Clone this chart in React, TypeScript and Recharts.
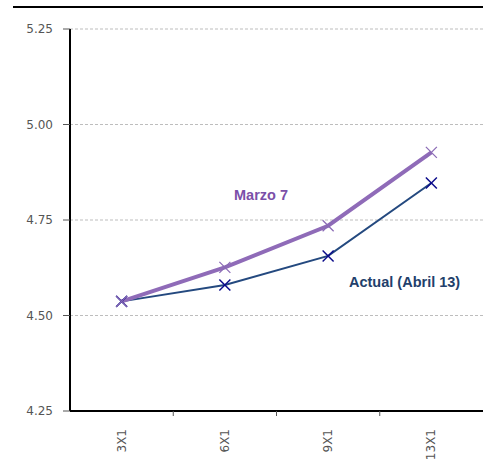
import { LineChart, Line, XAxis, YAxis, CartesianGrid, Customized } from "recharts";

const plazos = ["3X1", "6X1", "9X1", "13X1"];
const marzo7 = [4.537, 4.626, 4.735, 4.927];
const actual = [4.537, 4.58, 4.656, 4.847];
const yTicks = [4.25, 4.5, 4.75, 5.0, 5.25];

const data = plazos.map((p, i) => ({ plazo: p, marzo: marzo7[i], actual: actual[i] }));

const BAND = 103.25;
const tickFont = "DejaVu Sans, sans-serif";
const labelFont = "Liberation Sans, Arial, sans-serif";

const XTick = (props: any) => {
  const { x, y, payload, index } = props;
  return (
    <g>
      {index > 0 && (
        <line x1={x - BAND / 2} x2={x - BAND / 2} y1={y - 8} y2={y - 3} stroke="#555" strokeWidth={1} />
      )}
      <text
        x={x}
        y={y + 10}
        transform={`rotate(-90, ${x}, ${y + 10})`}
        textAnchor="end"
        dominantBaseline="central"
        fill="#555"
        fontSize={12}
        fontFamily={tickFont}
      >
        {payload.value}
      </text>
    </g>
  );
};

const cross = (color: string, w: number) => (props: any) => {
  const { cx, cy, index } = props;
  if (cx == null || cy == null) return <g key={index} />;
  const s = 5.5;
  return (
    <g key={index}>
      <line x1={cx - s} y1={cy - s} x2={cx + s} y2={cy + s} stroke={color} strokeWidth={w} />
      <line x1={cx - s} y1={cy + s} x2={cx + s} y2={cy - s} stroke={color} strokeWidth={w} />
    </g>
  );
};

const Labels = () => (
  <g fontFamily={labelFont} fontWeight="bold" fontSize={14.5}>
    <text x={234} y={200} fill="#7b4fa8">Marzo 7</text>
    <text x={349} y={287} fill="#233f6b">Actual (Abril 13)</text>
  </g>
);

export default function App() {
  return (
    <div style={{ position: "absolute", left: 0, top: 0, width: 483, height: 460, background: "#fff" }}>
      <div style={{ position: "absolute", left: 13, top: 6, width: 470, height: 2, background: "#000" }} />
      <LineChart width={483} height={460} data={data} margin={{ top: 29, right: 0, bottom: 0, left: 8 }}>
        <CartesianGrid horizontal vertical={false} stroke="#bdbdbd" strokeDasharray="3 2" />
        <XAxis
          dataKey="plazo"
          scale="band"
          height={49}
          tickLine={false}
          axisLine={{ stroke: "#000", strokeWidth: 2 }}
          tick={<XTick />}
          interval={0}
        />
        <YAxis
          width={62}
          domain={[4.25, 5.25]}
          ticks={yTicks}
          tickFormatter={(v: number) => v.toFixed(2)}
          axisLine={{ stroke: "#000", strokeWidth: 2 }}
          tickLine={{ stroke: "#555" }}
          tickSize={7}
          tickMargin={10}
          tick={{ fill: "#555", fontSize: 12, fontFamily: tickFont }}
        />
        <Line
          dataKey="actual"
          stroke="#24497f"
          strokeWidth={2}
          dot={cross("#0a0a8a", 1.5)}
          isAnimationActive={false}
        />
        <Line
          dataKey="marzo"
          stroke="#8f6bb8"
          strokeWidth={4}
          dot={cross("#8a6ab5", 1.3)}
          isAnimationActive={false}
        />
        <Customized component={Labels} />
      </LineChart>
    </div>
  );
}
